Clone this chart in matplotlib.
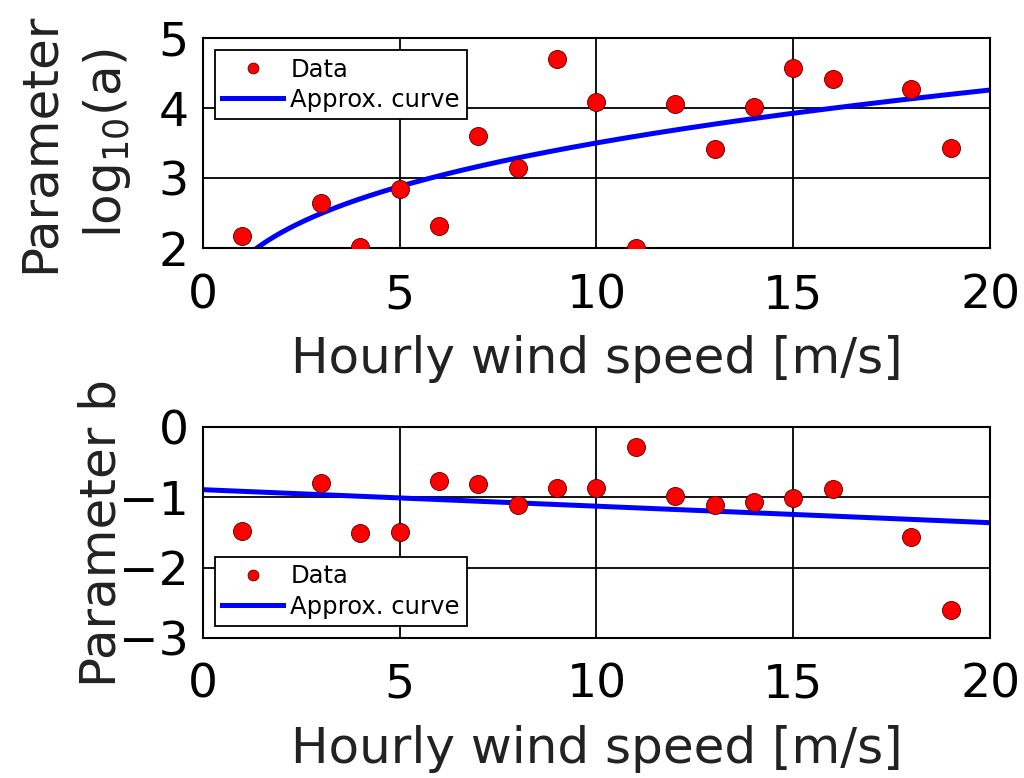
import numpy as np
import matplotlib.pyplot as plt

# hourly wind speed classes [m/s]
wind_speed = [1, 3, 4, 5, 6, 7, 8, 9, 10, 11, 12, 13, 14, 15, 16, 18, 19]
# fitted parameters per wind speed class
log_a = [2.18, 2.64, 2.01, 2.84, 2.31, 3.60, 3.15, 4.70, 4.09, 2.00,
         4.06, 3.42, 4.01, 4.57, 4.42, 4.28, 3.43]
param_b = [-1.48, -0.79, -1.50, -1.49, -0.76, -0.81, -1.11, -0.86, -0.86, -0.28,
           -0.98, -1.11, -1.06, -1.01, -0.88, -1.56, -2.60]

# approximation curves: log10(a) = c * U^p, b = b0 + b1 * U
a_coef, a_pow = 1.83, 0.282
b0, b1 = -0.89, -0.0235

plt.rcParams['font.family'] = ['DejaVu Sans']
tick_fs = 34
label_fs = 36

fig = plt.figure(figsize=(10.24, 7.78), dpi=100)
ax1 = fig.add_axes([0.198, 0.681, 0.769, 0.270])
ax2 = fig.add_axes([0.198, 0.180, 0.769, 0.271])

u = np.linspace(0.01, 20, 400)

def style(ax, ylim, yticks):
    ax.set_xlim(0, 20)
    ax.set_ylim(*ylim)
    ax.set_xticks([0, 5, 10, 15, 20])
    ax.set_yticks(yticks)
    ax.grid(True, color='black', linewidth=1.3)
    ax.set_axisbelow(True)
    for s in ax.spines.values():
        s.set_linewidth(1.5)
    ax.tick_params(axis='x', labelsize=tick_fs, length=0, pad=18)
    ax.tick_params(axis='y', labelsize=tick_fs, length=0, pad=10)
    ax.set_xlabel('Hourly wind speed [m/s]', fontsize=label_fs,
                  color='#222222', labelpad=12)

def add_legend(ax, loc):
    leg = ax.legend(loc=loc, fontsize=17.5, frameon=True, fancybox=False,
                    edgecolor='black', framealpha=1, borderpad=0.3,
                    handlelength=2.5, handletextpad=0.3, labelspacing=0.25,
                    markerscale=0.6, borderaxespad=0.5)
    leg.get_frame().set_linewidth(1.3)

# top panel: parameter a
ax1.plot(wind_speed, log_a, 'o', color='red', markersize=13,
         markeredgecolor='#550000', markeredgewidth=0.6, label='Data', zorder=3)
ax1.plot(u, a_coef * u ** a_pow, color='blue', linewidth=3.6,
         label='Approx. curve', zorder=2)
style(ax1, (2, 5), [2, 3, 4, 5])
ax1.set_ylabel('Parameter\nlog$_{10}$(a)', fontsize=label_fs, linespacing=1.45,
               color='#222222')
ax1.yaxis.set_label_coords(-0.088, 0.5)
add_legend(ax1, 'upper left')

# bottom panel: parameter b
ax2.plot(wind_speed, param_b, 'o', color='red', markersize=13,
         markeredgecolor='#550000', markeredgewidth=0.6, label='Data', zorder=3)
ax2.plot(u, b0 + b1 * u, color='blue', linewidth=3.6,
         label='Approx. curve', zorder=2)
style(ax2, (-3, 0), [-3, -2, -1, 0])
ax2.set_yticklabels(['\u22123', '\u22122', '\u22121', '0'])
ax2.set_ylabel('Parameter b', fontsize=label_fs, color='#222222')
ax2.yaxis.set_label_coords(-0.098, 0.5)
add_legend(ax2, 'lower left')

fig.savefig('out.png', dpi=100)
